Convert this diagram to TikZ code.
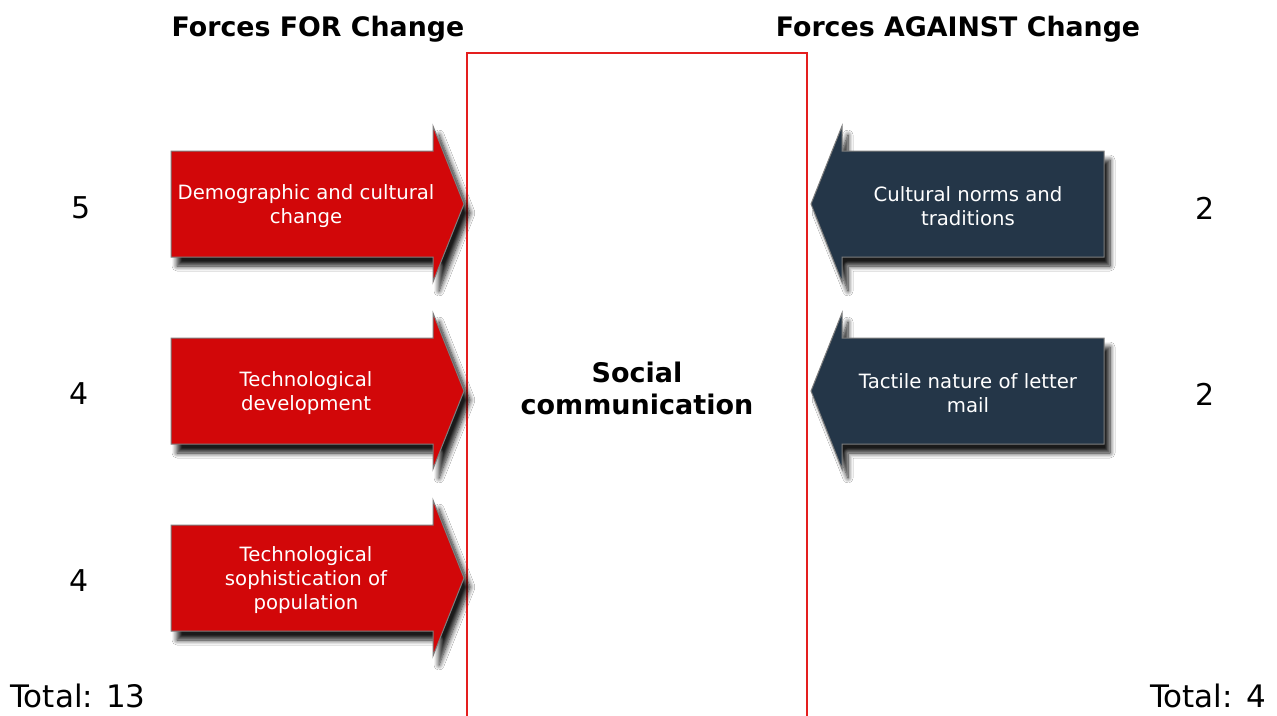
\documentclass[tikz,border=0pt]{standalone}
\usepackage{fontspec}
\setmainfont{DejaVu Sans}
\usetikzlibrary{shadows.blur}
\definecolor{forred}{RGB}{210,7,9}
\definecolor{agnavy}{RGB}{36,54,72}
\definecolor{framered}{RGB}{228,30,30}
\definecolor{edgegrey}{RGB}{125,125,125}
\begin{document}
\begin{tikzpicture}[x=1pt,y=-1pt,
  arrowshadow/.style={blur shadow={shadow xshift=6pt, shadow yshift=-9pt, shadow opacity=90, shadow blur steps=8, shadow blur radius=5pt}},
  forarrow/.style={fill=forred, draw=edgegrey, line width=1pt, arrowshadow},
  agarrow/.style={fill=agnavy, draw=edgegrey, line width=1pt, arrowshadow},
  arrowtext/.style={text=white, align=center, font=\fontsize{19.7}{24}\selectfont, inner sep=0pt},
  header/.style={font=\fontsize{26.8}{32}\selectfont\bfseries, anchor=base, inner sep=0pt},
  score/.style={font=\fontsize{30}{36}\selectfont, inner sep=0pt},
  total/.style={font=\fontsize{31}{36}\selectfont, inner sep=0pt},
]
\useasboundingbox (0,0) rectangle (1277,715);
\fill[white] (0,0) rectangle (1277,715);

% central field
\draw[draw=framered, line width=1.2pt] (467,53) rectangle (807,730);
\node (social) [align=center, font=\fontsize{27}{32}\selectfont\bfseries, inner sep=0pt] at (637,388) {Social\\communication};

% headers
\node (hfor) [header] at (318,36) {Forces FOR Change};
\node (hagainst) [header] at (958,36) {Forces AGAINST Change};

% forces for
\path[forarrow] (171,151) -- (433,151) -- (433,126) -- (464,204) -- (433,282) -- (433,257) -- (171,257) -- cycle;
\path[forarrow] (171,338) -- (433,338) -- (433,313) -- (464,391) -- (433,469) -- (433,444) -- (171,444) -- cycle;
\path[forarrow] (171,525) -- (433,525) -- (433,500) -- (464,578) -- (433,656) -- (433,631) -- (171,631) -- cycle;
\node (f1) [arrowtext] at (306,206) {Demographic and cultural\\change};
\node (f2) [arrowtext] at (306,393) {Technological\\development};
\node (f3) [arrowtext] at (306,580) {Technological\\sophistication of\\population};

% forces against
\path[agarrow] (1104,151) -- (842,151) -- (842,126) -- (811,204) -- (842,282) -- (842,257) -- (1104,257) -- cycle;
\path[agarrow] (1104,338) -- (842,338) -- (842,313) -- (811,391) -- (842,469) -- (842,444) -- (1104,444) -- cycle;
\node (a1) [arrowtext] at (968,206) {Cultural norms and\\traditions};
\node (a2) [arrowtext] at (968,393) {Tactile nature of letter\\mail};

% scores
\node (s1) [score] at (81,208) {5};
\node (s2) [score] at (79,394) {4};
\node (s3) [score] at (79,581) {4};
\node (r1) [score] at (1205,208) {2};
\node (r2) [score] at (1205,394) {2};
\node (tfor) [total, anchor=base west] at (10,707) {Total: 13};
\node (tagainst) [total, anchor=base east] at (1266,707) {Total: 4};
\end{tikzpicture}
\end{document}
